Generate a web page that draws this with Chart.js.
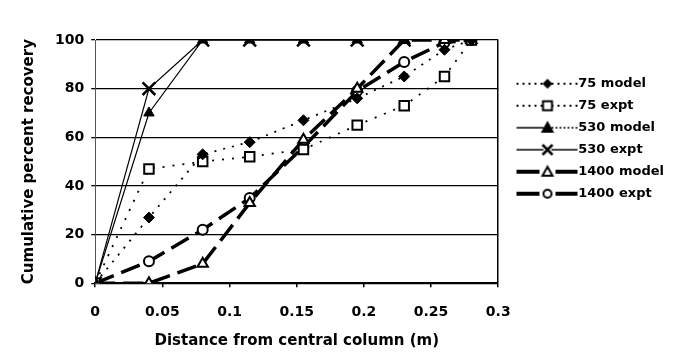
<!DOCTYPE html>
<html>
<head>
<meta charset="utf-8">
<script src="https://cdn.jsdelivr.net/npm/chart.js@4"></script>
<style>
  html, body { margin: 0; padding: 0; background: #fff; }
  #wrap { width: 677px; height: 356px; }
</style>
</head>
<body>
<div id="wrap"><canvas id="recoveryChart"></canvas></div>
<script>
// distances (m) at which recovery was sampled
const distances = [0, 0.04, 0.08, 0.115, 0.155, 0.195, 0.23, 0.26, 0.28];

const model75 = [0, 27, 53, 58, 67, 76, 85, 96, 100];
const expt75 = [0, 47, 50, 52, 55, 65, 73, 85, 100];
const model530 = [0, 70, 100, 100, 100, 100, 100];
const expt530 = [0, 80, 100, 100, 100, 100, 100];
const model1400 = [0, 0, 8, 33, 59, 80, 100, 100, 100];
const expt1400 = [0, 9, 22, 35, 56, 79, 91, 99, 100];

const seriesNames = ['75 model', '75 expt', '530 model', '530 expt', '1400 model', '1400 expt'];
const xTickLabels = ['0', '0.05', '0.1', '0.15', '0.2', '0.25', '0.3'];
const yTickLabels = ['0', '20', '40', '60', '80', '100'];

const FONT = '"DejaVu Sans", Arial, sans-serif';

function toPoints(values) {
    return values.map((v, i) => ({ x: distances[i], y: v }));
}

// little legend samples: line - marker - line
// canvas is wider than the sample, the sample sits in its right part
function makeSample(left, right, marker) {
    const c = document.createElement('canvas');
    c.width = 78; c.height = 16;
    const g = c.getContext('2d');
    const off = 16, mid = 8, cx = off + 31;
    const gap = left.gap || 4;
    const seg = (st, x0, x1) => {
        g.save();
        g.strokeStyle = '#000';
        g.lineWidth = st.w;
        g.setLineDash(st.dash || []);
        g.beginPath(); g.moveTo(x0, mid); g.lineTo(x1, mid); g.stroke();
        g.restore();
    };
    seg(left, off, cx - gap);
    seg(right, cx + gap, off + 61);
    g.fillStyle = marker.fill; g.strokeStyle = '#000'; g.lineWidth = 2;
    g.beginPath();
    if (marker.type === 'diamond') {
        g.moveTo(cx, mid - 5); g.lineTo(cx + 5, mid); g.lineTo(cx, mid + 5); g.lineTo(cx - 5, mid); g.closePath();
        g.fill();
    } else if (marker.type === 'square') {
        g.rect(cx - 4.5, mid - 4.5, 9, 9); g.fill(); g.stroke();
    } else if (marker.type === 'triangle') {
        g.moveTo(cx, mid - 5); g.lineTo(cx + 5, mid + 4); g.lineTo(cx - 5, mid + 4); g.closePath();
        g.fill(); g.stroke();
    } else if (marker.type === 'cross') {
        g.lineWidth = 2.5;
        g.moveTo(cx - 5, mid - 5); g.lineTo(cx + 5, mid + 5);
        g.moveTo(cx + 5, mid - 5); g.lineTo(cx - 5, mid + 5); g.stroke();
    } else if (marker.type === 'circle') {
        g.arc(cx, mid, 4, 0, Math.PI * 2); g.fill(); g.stroke();
    }
    return c;
}

const dotted = { w: 2, dash: [2, 4] };
const thin = { w: 1.5 };
const thick = { w: 4, gap: 8 };

const samples = [
    makeSample(dotted, dotted, { type: 'diamond', fill: '#000' }),
    makeSample(dotted, dotted, { type: 'square', fill: '#fff' }),
    makeSample(thin, { w: 1.5, dash: [2, 2] }, { type: 'triangle', fill: '#000' }),
    makeSample(thin, thin, { type: 'cross', fill: '#000' }),
    makeSample(thick, thick, { type: 'triangle', fill: '#fff' }),
    makeSample(thick, thick, { type: 'circle', fill: '#fff' })
];

const datasets = [
    { data: toPoints(model75), borderWidth: 1.8, borderDash: [2, 7], pointStyle: 'rectRot', pointRadius: 5.5, pointBackgroundColor: '#000', pointBorderWidth: 1 },
    { data: toPoints(expt75), borderWidth: 1.8, borderDash: [2, 8], pointStyle: 'rect', pointRadius: 6.7, pointBackgroundColor: '#fff', pointBorderWidth: 2 },
    { data: toPoints(model530), borderWidth: 1.2, pointStyle: 'triangle', pointRadius: 6, pointBackgroundColor: '#000', pointBorderWidth: 1 },
    { data: toPoints(expt530), borderWidth: 1.2, pointStyle: 'crossRot', pointRadius: 9, pointBackgroundColor: '#000', pointBorderWidth: 2.5 },
    { data: toPoints(model1400), borderWidth: 3.5, borderDash: [20, 8], pointStyle: 'triangle', pointRadius: 6, pointBackgroundColor: '#fff', pointBorderWidth: 2 },
    { data: toPoints(expt1400), borderWidth: 3.5, borderDash: [20, 8], pointStyle: 'circle', pointRadius: 5, pointBackgroundColor: '#fff', pointBorderWidth: 2 }
].map((d, i) => Object.assign({
    label: seriesNames[i],
    borderColor: '#000',
    pointBorderColor: '#000',
    tension: 0,
    fill: false
}, d));

new Chart(document.getElementById('recoveryChart'), {
    type: 'line',
    data: { datasets: datasets },
    options: {
        responsive: true,
        maintainAspectRatio: false,
        animation: false,
        layout: { padding: { left: 16, right: 3, top: 40, bottom: 6 } },
        plugins: {
            tooltip: { enabled: false },
            legend: {
                position: 'right',
                align: 'start',
                maxWidth: 220,
                title: { display: true, text: ' ', font: { size: 1 }, padding: { top: 0, bottom: 27 } },
                labels: {
                    usePointStyle: true,
                    pointStyleWidth: 64.5,
                    padding: 9,
                    color: '#000',
                    font: { family: FONT, size: 13, weight: 'bold' },
                    generateLabels: chart => seriesNames.map((name, i) => ({
                        text: name,
                        pointStyle: samples[i],
                        datasetIndex: i,
                        lineWidth: 0,
                        fillStyle: '#000',
                        strokeStyle: '#000',
                        fontColor: '#000'
                    }))
                }
            }
        },
        scales: {
            x: {
                type: 'linear',
                min: 0,
                max: 0.3,
                ticks: {
                    stepSize: 0.05,
                    color: '#000',
                    padding: 17,
                    font: { family: FONT, size: 14, weight: 'bold' },
                    callback: (v, i) => xTickLabels[i]
                },
                grid: {
                    color: ctx => (ctx.tick && ctx.tick.value >= 0.299) ? '#000' : 'rgba(0,0,0,0)',
                    tickColor: '#000',
                    tickLength: 4,
                    lineWidth: 1.5
                },
                border: { color: '#000', width: 1.5 },
                title: {
                    display: true,
                    text: 'Distance from central column (m)',
                    color: '#000',
                    font: { family: FONT, size: 15, weight: 'bold' },
                    padding: { top: -6, bottom: 0 }
                }
            },
            y: {
                min: 0,
                max: 100,
                ticks: {
                    stepSize: 20,
                    color: '#000',
                    padding: 7,
                    font: { family: FONT, size: 14, weight: 'bold' },
                    callback: (v, i) => yTickLabels[i]
                },
                grid: { color: '#000', lineWidth: 1.3, drawTicks: true, tickLength: 4 },
                border: { color: '#555', width: 1 },
                title: {
                    display: true,
                    text: 'Cumulative percent recovery',
                    color: '#000',
                    font: { family: FONT, size: 15, weight: 'bold' },
                    padding: { bottom: 10 }
                }
            }
        }
    }
});
</script>
</body>
</html>
